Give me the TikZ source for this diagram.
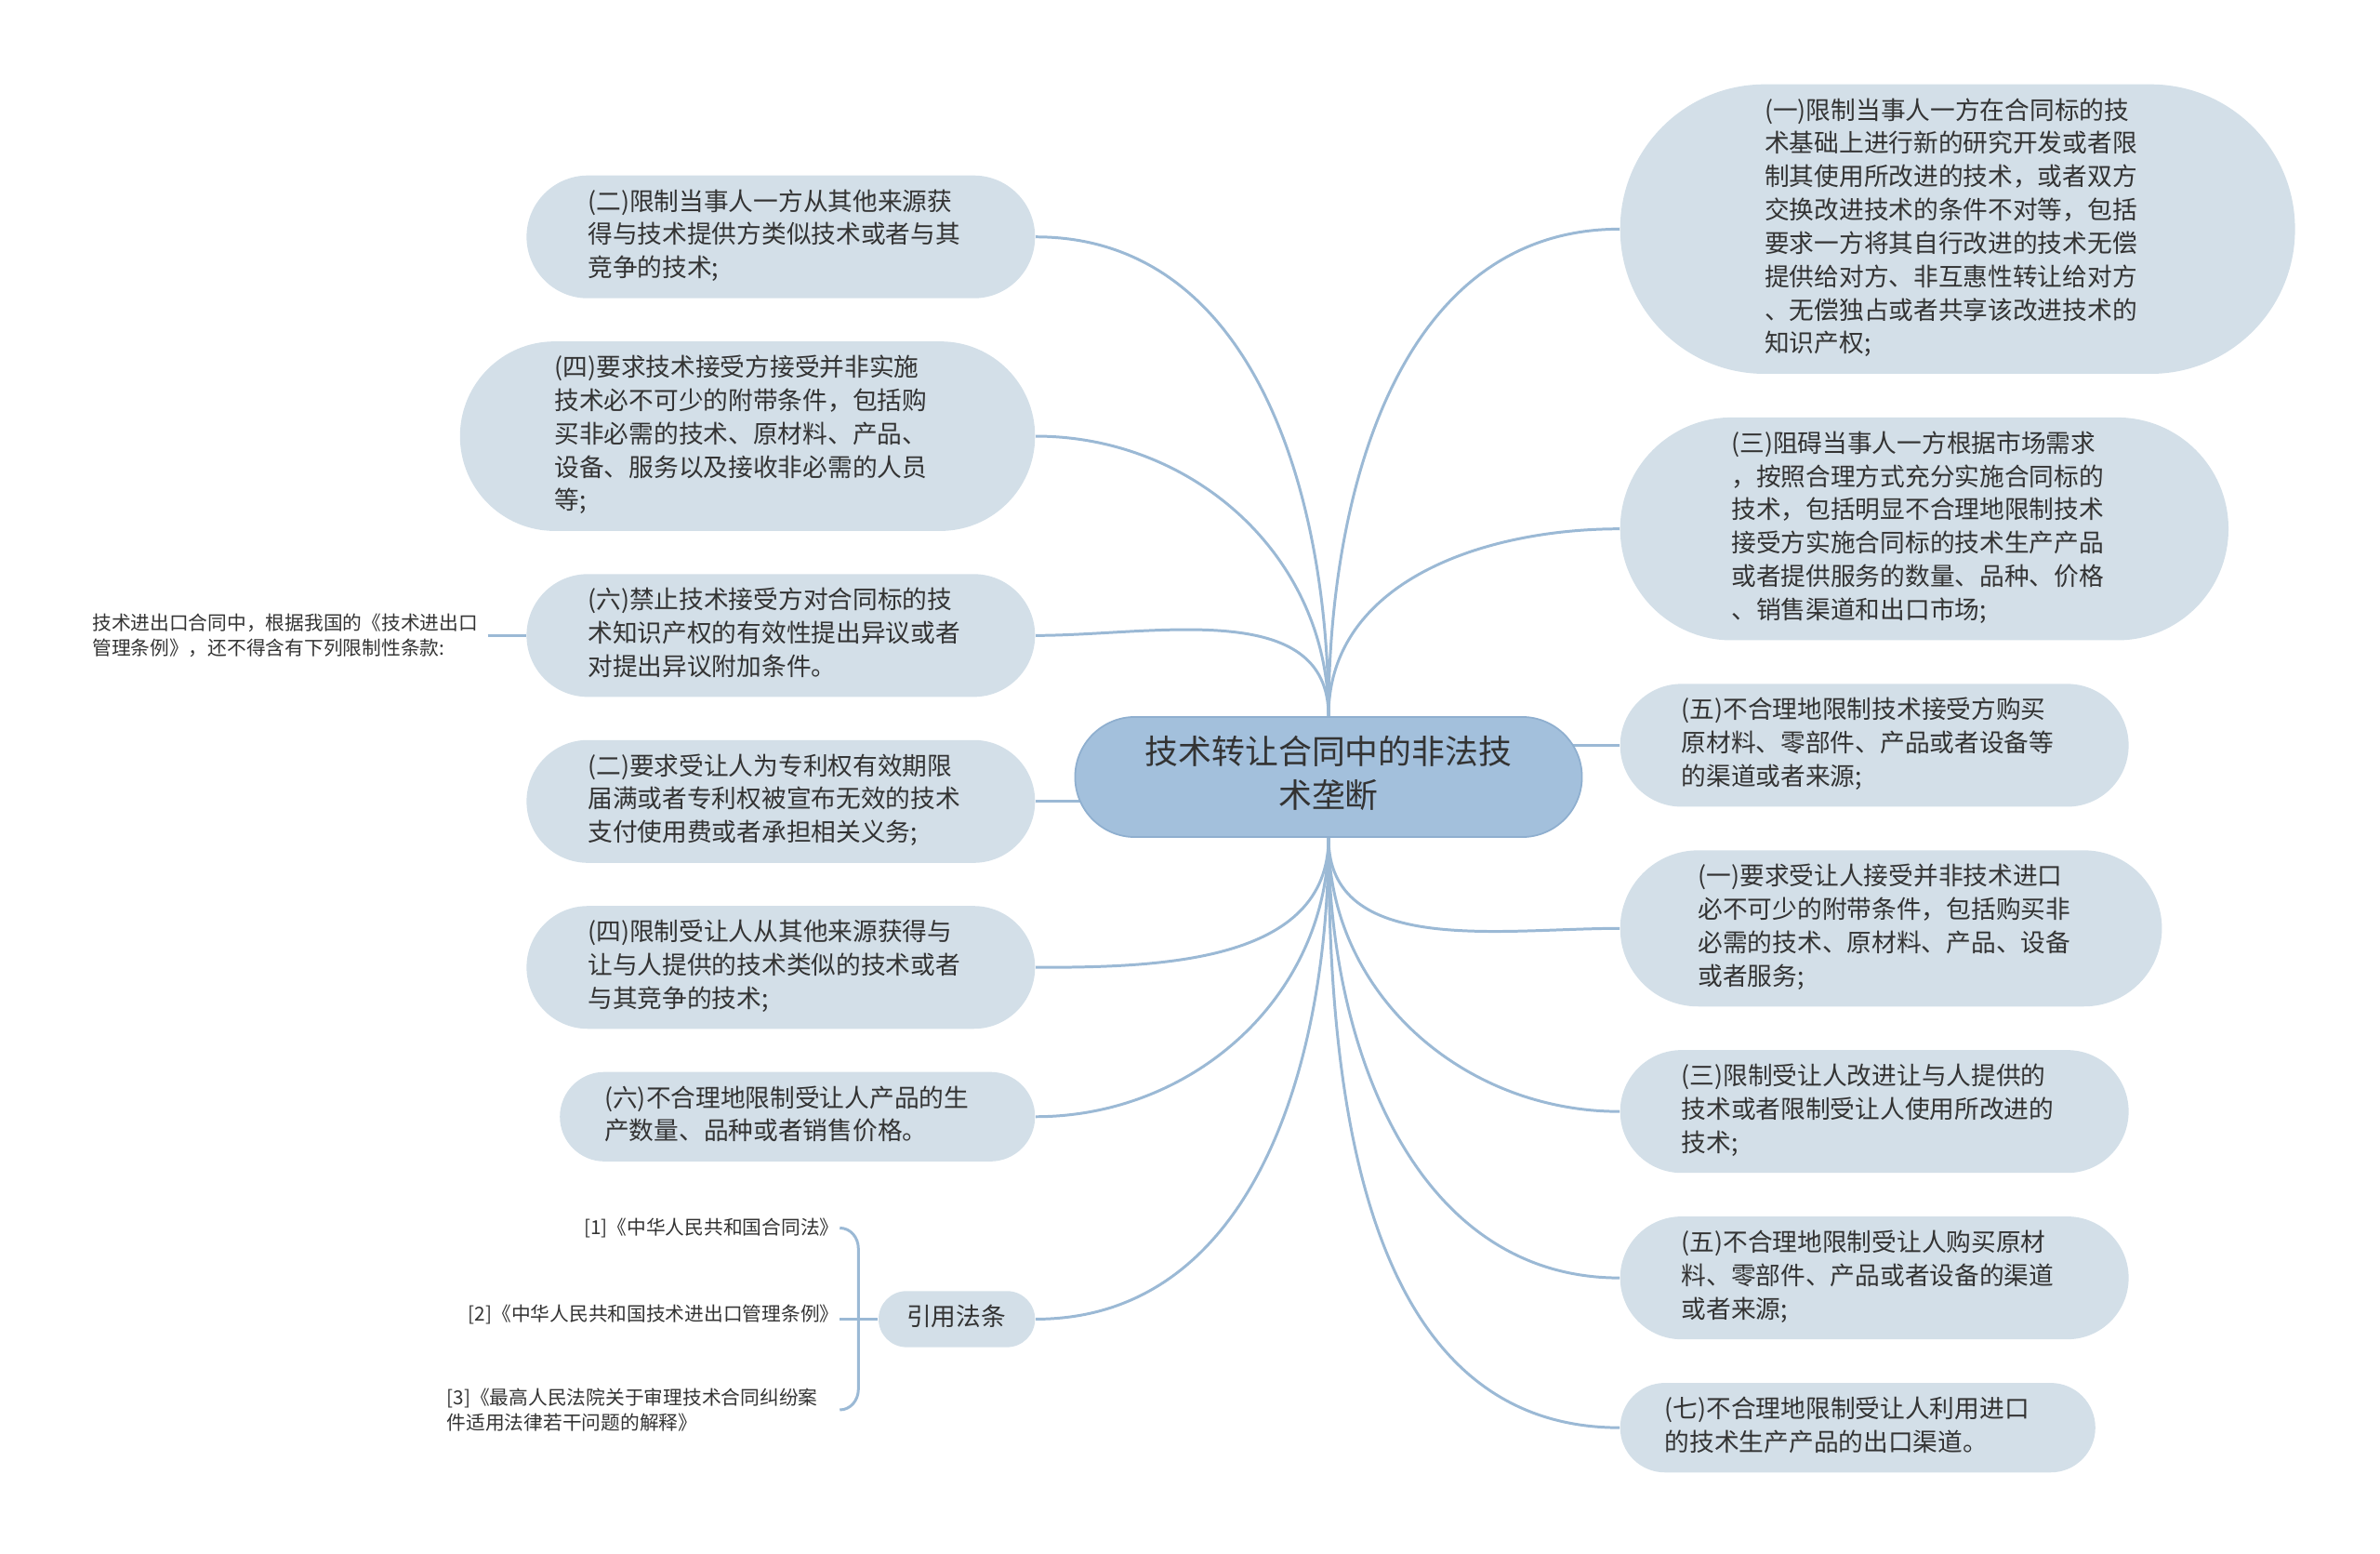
\documentclass[tikz,border=0pt]{standalone}
\usepackage{fontspec}
\setmainfont{Noto Sans CJK SC}
\usetikzlibrary{positioning,backgrounds}
\definecolor{AzulCentro}{RGB}{163,192,220}
\definecolor{AzulBorde}{RGB}{143,175,207}
\definecolor{AzulPalido}{RGB}{211,223,232}
\definecolor{AzulLinea}{RGB}{155,185,213}
\definecolor{GrisTexto}{RGB}{51,51,51}
\tikzset{
  centrobox/.style={rectangle, rounded corners=0.646cm, draw=AzulBorde, line width=0.5pt, fill=AzulCentro,
    text=GrisTexto, align=center, text width=4.16cm, inner xsep=0.646cm, inner ysep=0.175cm,
    font=\fontsize{10.2pt}{13.4pt}\selectfont,
    execute at begin node=\strut, execute at end node=\strut},
  % el radio es la mitad de la altura: 0.358cm por linea + 0.245cm
  ramabox/.style={rectangle, rounded corners=#1, fill=AzulPalido, text=GrisTexto, align=left,
    text width=4.15cm, inner xsep=#1, inner ysep=0.1225cm,
    font=\fontsize{7.6pt}{10.2pt}\selectfont,
    execute at begin node=\strut, execute at end node=\strut},
  ramabox/.default=0.6595cm,
  % ---- textos sueltos y conectores ----
  refbox/.style={text=GrisTexto, align=left, inner xsep=0pt, inner ysep=1pt,
    font=\fontsize{5.9pt}{7.8pt}\selectfont},
  ramaline/.style={draw=AzulLinea, line width=0.85pt},
}
\begin{document}
\begin{tikzpicture}
  \useasboundingbox (0,0) rectangle (25.6,16.7);
  \node[centrobox] (c) at (14.29,8.345) {技术转让合同中的非法技\\术垄断};
  % lado derecho
  \node[ramabox=1.5545cm, anchor=north west] (r1) at (17.42,15.80) {(一)限制当事人一方在合同标的技\\术基础上进行新的研究开发或者限\\制其使用所改进的技术，或者双方\\交换改进技术的条件不对等，包括\\要求一方将其自行改进的技术无偿\\提供给对方、非互惠性转让给对方\\、无偿独占或者共享该改进技术的\\知识产权;};
  \node[ramabox=1.1965cm, below=0.455cm of r1.south west, anchor=north west] (r2) {(三)阻碍当事人一方根据市场需求\\，按照合理方式充分实施合同标的\\技术，包括明显不合理地限制技术\\接受方实施合同标的技术生产产品\\或者提供服务的数量、品种、价格\\、销售渠道和出口市场;};
  \node[ramabox, below=0.455cm of r2.south west, anchor=north west] (r3) {(五)不合理地限制技术接受方购买\\原材料、零部件、产品或者设备等\\的渠道或者来源;};
  \node[ramabox=0.8385cm, below=0.455cm of r3.south west, anchor=north west] (r4) {(一)要求受让人接受并非技术进口\\必不可少的附带条件，包括购买非\\必需的技术、原材料、产品、设备\\或者服务;};
  \node[ramabox, below=0.455cm of r4.south west, anchor=north west] (r5) {(三)限制受让人改进让与人提供的\\技术或者限制受让人使用所改进的\\技术;};
  \node[ramabox, below=0.455cm of r5.south west, anchor=north west] (r6) {(五)不合理地限制受让人购买原材\\料、零部件、产品或者设备的渠道\\或者来源;};
  \node[ramabox=0.4805cm, below=0.455cm of r6.south west, anchor=north west] (r7) {(七)不合理地限制受让人利用进口\\的技术生产产品的出口渠道。};
  % lado izquierdo
  \node[ramabox, anchor=north east] (l1) at (11.14,14.82) {(二)限制当事人一方从其他来源获\\得与技术提供方类似技术或者与其\\竞争的技术;};
  \node[ramabox=1.0175cm, below=0.45cm of l1.south east, anchor=north east] (l2) {(四)要求技术接受方接受并非实施\\技术必不可少的附带条件，包括购\\买非必需的技术、原材料、产品、\\设备、服务以及接收非必需的人员\\等;};
  \node[ramabox, below=0.45cm of l2.south east, anchor=north east] (l3) {(六)禁止技术接受方对合同标的技\\术知识产权的有效性提出异议或者\\对提出异议附加条件。};
  \node[ramabox, below=0.45cm of l3.south east, anchor=north east] (l4) {(二)要求受让人为专利权有效期限\\届满或者专利权被宣布无效的技术\\支付使用费或者承担相关义务;};
  \node[ramabox, below=0.45cm of l4.south east, anchor=north east] (l5) {(四)限制受让人从其他来源获得与\\让与人提供的技术类似的技术或者\\与其竞争的技术;};
  \node[ramabox=0.4805cm, below=0.45cm of l5.south east, anchor=north east] (l6) {(六)不合理地限制受让人产品的生\\产数量、品种或者销售价格。};
  \node[ramabox=0.3015cm, text width=1.08cm, below=1.38cm of l6.south east, anchor=north east] (ley) {引用法条};
  \node[refbox, left=0.41cm of l3.west, inner xsep=0.1cm] (nota) {技术进出口合同中，根据我国的《技术进出口\\管理条例》，还不得含有下列限制性条款:};
  % referencias
  \coordinate[left=0.21cm of ley.west] (llave);
  \node[refbox, left=0.2cm of llave, yshift=0.05cm] (ref2) {[2]《中华人民共和国技术进出口管理条例》};
  \node[refbox, above=0.93cm of ref2.east, anchor=east] (ref1) {[1]《中华人民共和国合同法》};
  \node[refbox, anchor=west] (ref3) at (4.80,1.54) {[3]《最高人民法院关于审理技术合同纠纷案\\件适用法律若干问题的解释》};
  \draw[ramaline] ([xshift=-0.2cm]ref1.east -| llave) to[out=0,in=90] ([yshift=-0.22cm]ref1.east -| llave)
    -- ([yshift=0.22cm]ref3.east -| llave) to[out=-90,in=0] ([xshift=-0.2cm]ref3.east -| llave);
  \draw[ramaline] (ley.west) -- ([xshift=-0.2cm]llave);
  \begin{scope}[on background layer]
    \draw[ramaline] (c.north) to[out=90,in=180] (r1.west);
    \draw[ramaline] (c.north) to[out=90,in=180] (r2.west);
    \draw[ramaline] (c.center |- r3.west) -- (r3.west);
    \draw[ramaline] (c.south) to[out=-90,in=180] (r4.west);
    \draw[ramaline] (c.south) to[out=-90,in=180] (r5.west);
    \draw[ramaline] (c.south) to[out=-90,in=180] (r6.west);
    \draw[ramaline] (c.south) to[out=-90,in=180] (r7.west);
    \draw[ramaline] (c.north) to[out=90,in=0] (l1.east);
    \draw[ramaline] (c.north) to[out=90,in=0] (l2.east);
    \draw[ramaline] (c.north) to[out=90,in=0] (l3.east);
    \draw[ramaline] (c.center |- l4.east) -- (l4.east);
    \draw[ramaline] (c.south) to[out=-90,in=0] (l5.east);
    \draw[ramaline] (c.south) to[out=-90,in=0] (l6.east);
    \draw[ramaline] (c.south) to[out=-90,in=0] (ley.east);
    \draw[ramaline] (nota.east) -- (l3.west);
  \end{scope}
\end{tikzpicture}
\end{document}
